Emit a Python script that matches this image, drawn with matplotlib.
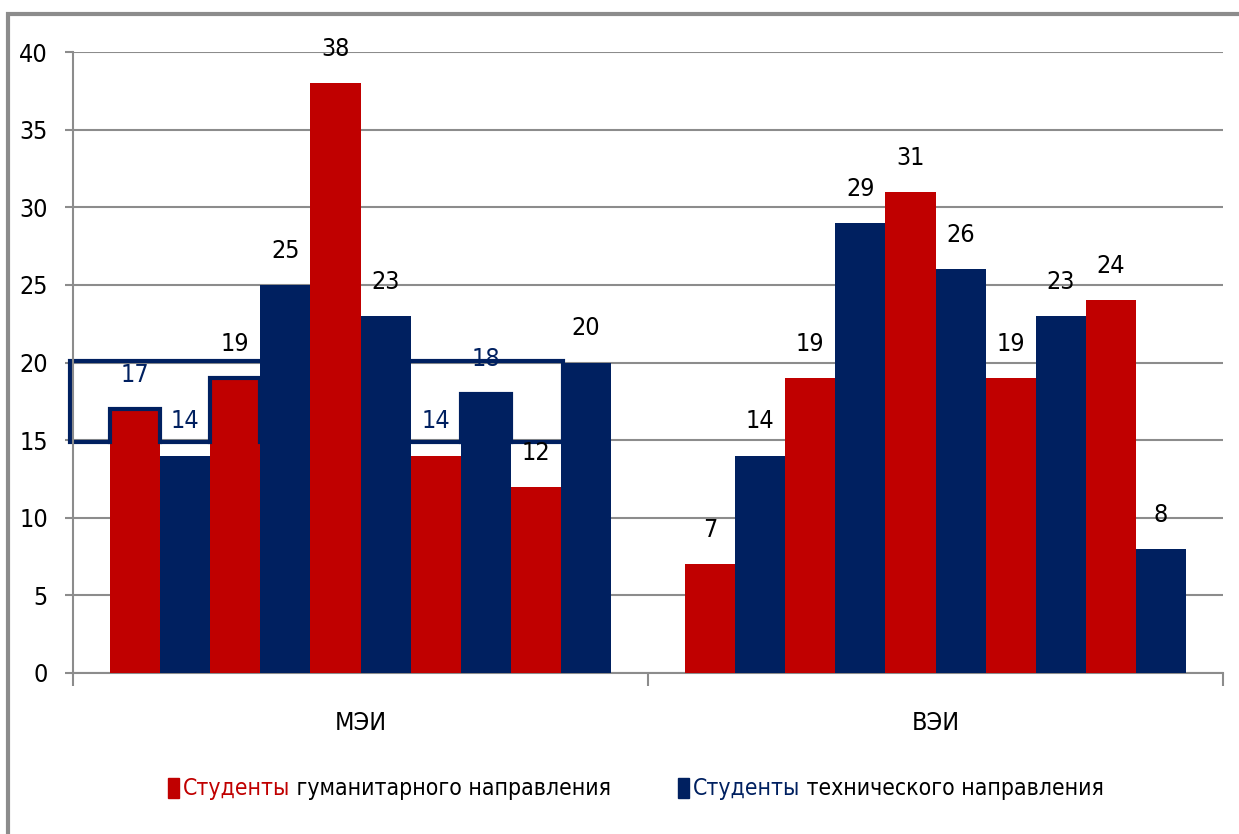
import matplotlib
matplotlib.use("Agg")
import matplotlib.pyplot as plt
from matplotlib import font_manager
from matplotlib.patches import Rectangle
import numpy as np

# data
groups = ["МЭИ", "ВЭИ"]
mei_values = [17, 14, 19, 25, 38, 23, 14, 18, 12, 20]
vei_values = [7, 14, 19, 29, 31, 26, 19, 23, 24, 8]
series_names = ["Студенты гуманитарного направления", "Студенты технического направления"]
yticks = [0, 5, 10, 15, 20, 25, 30, 35, 40]

RED = "#C00000"
NAVY = "#002060"
GRID = "#8C8C8C"

fonts = font_manager.fontManager.ttflist
cond = [f for f in fonts if f.name == "DejaVu Sans" and f.stretch == "condensed"]
if "Liberation Sans Narrow" in [f.name for f in fonts]:
    plt.rcParams["font.family"] = ["Liberation Sans Narrow", "DejaVu Sans"]
    FS = 20
else:
    plt.rcParams["font.family"] = ["DejaVu Sans"]
    if cond:
        plt.rcParams["font.stretch"] = "condensed"
    FS = 18

fig = plt.figure(figsize=(12.39, 8.34), dpi=100)
ax = fig.add_axes([73 / 1239, 1 - 673 / 834, 1150 / 1239, 621 / 834])

w = 50 / 574
all_values = [mei_values, vei_values]
bar_colors = [RED if i % 2 == 0 else NAVY for i in range(10)]

for g, vals in enumerate(all_values):
    xs = g + (np.arange(len(vals)) - 4.5) * w
    ax.bar(xs, vals, width=w, color=bar_colors, zorder=3, linewidth=0)

# highlight box drawn over the first group
lo, hi = 14.85, 20.12
x_left = -0.505
x_right = (8 - 4.5 + 0.5) * w + 0.004
ax.add_patch(Rectangle((x_left, lo), x_right - x_left, hi - lo, fill=False,
                       edgecolor=NAVY, lw=3, zorder=2, clip_on=False))
for i, v in enumerate(mei_values[:9]):
    if lo < v < hi:
        xl = (i - 4.5) * w - w / 2
        ax.plot([xl, xl, xl + w, xl + w], [lo, v, v, lo], color=NAVY, lw=3,
                zorder=4, solid_joinstyle="miter")

# value labels
for g, vals in enumerate(all_values):
    for i, v in enumerate(vals):
        x = g + (i - 4.5) * w
        y = v + 2.2
        col = "black"
        if g == 0 and i <= 8 and lo < y < hi + 0.5:
            col = NAVY
        ax.text(x, y, str(v), ha="center", va="center", fontsize=FS, color=col, zorder=5)

ax.set_xlim(-0.5, 1.5)
ax.set_ylim(0, 40)
ax.set_yticks(yticks)
ax.yaxis.grid(True, color=GRID, lw=1.5, zorder=0)
ax.set_axisbelow(True)
ax.tick_params(axis="y", direction="out", length=6, width=1.5, color=GRID,
               labelsize=FS, pad=12)
ax.set_xticks([-0.5, 0.5, 1.5])
ax.set_xticklabels([])
ax.tick_params(axis="x", direction="out", length=9, width=1.5, color=GRID)
for s in ["top", "right"]:
    ax.spines[s].set_visible(False)
for s in ["left", "bottom"]:
    ax.spines[s].set_color(GRID)
    ax.spines[s].set_linewidth(1.5)
for g, name in enumerate(groups):
    ax.text(g, -3.2, name, ha="center", va="center", fontsize=FS)

# legend built by hand
LFS = FS - 1.5
leg_y = 1 - 788 / 834
for mx, color, name in [(168, RED, series_names[0]), (678, NAVY, series_names[1])]:
    fig.add_artist(Rectangle((mx / 1239, leg_y - 10 / 834), 11 / 1239, 20 / 834,
                             transform=fig.transFigure, color=color))
    first, rest = name.split(" ", 1)
    t1 = fig.text((mx + 15) / 1239, leg_y, first, color=color, fontsize=LFS,
                  va="center", ha="left")
    ax.annotate(" " + rest, xy=(1, 0), xycoords=t1, va="bottom", ha="left",
                fontsize=LFS, color="black", annotation_clip=False)

# outer frame
fig.add_artist(Rectangle((8 / 1239, -0.1), 1.1, 1.1 - 14 / 834,
                         transform=fig.transFigure, fill=False,
                         edgecolor="#8C8C8C", lw=3))

fig.savefig("out.png", dpi=100)
